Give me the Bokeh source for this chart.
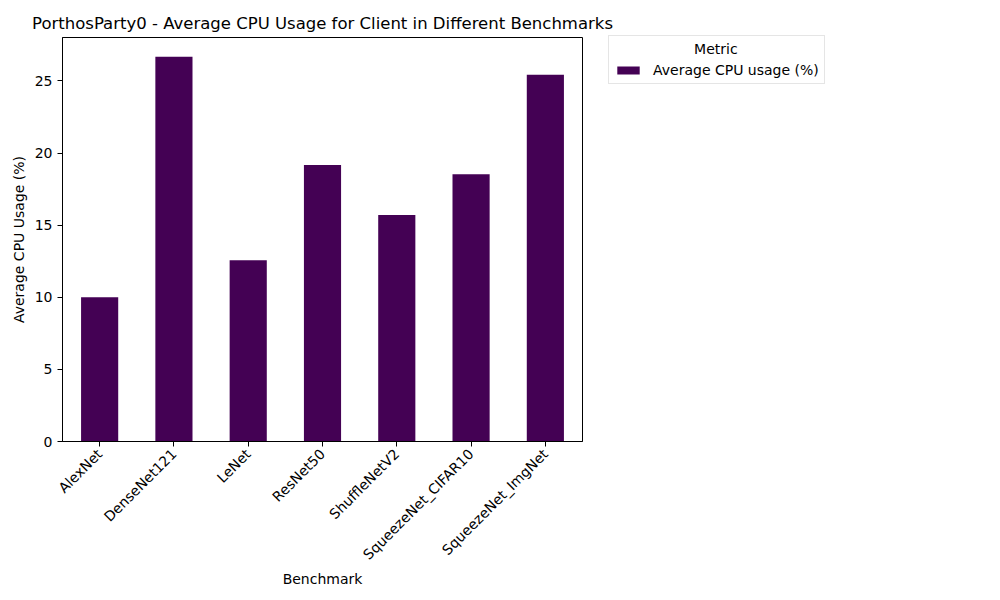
import math
from bokeh.plotting import figure
from bokeh.models import ColumnDataSource, Legend, LegendItem, Range1d, FactorRange
from bokeh.embed import file_html
from bokeh.resources import INLINE

benchmarks = ["AlexNet", "DenseNet121", "LeNet", "ResNet50", "ShuffleNetV2",
              "SqueezeNet_CIFAR10", "SqueezeNet_ImgNet"]
cpu_usage = [10.0, 26.68, 12.57, 19.17, 15.71, 18.54, 25.43]
series_name = "Average CPU usage (%)"
legend_title = "Metric"

FONT = "DejaVu Sans"

src = ColumnDataSource(dict(x=benchmarks, y=cpu_usage))

p = figure(x_range=FactorRange(*benchmarks, range_padding=0),
           y_range=Range1d(0, max(cpu_usage) * 1.05),
           frame_width=520, frame_height=404,
           output_backend="svg", toolbar_location=None,
           title="PorthosParty0 - Average CPU Usage for Client in Different Benchmarks")
p.min_border_left = 62
p.min_border_top = 37
p.min_border_bottom = 151
p.min_border_right = 10

r = p.vbar(x="x", top="y", width=0.5, source=src, fill_color="#440154", line_color=None)

p.title.text_font = FONT
p.title.text_font_size = "16.5px"
p.title.text_font_style = "normal"
p.title.align = "center"
p.title.text_color = "black"

p.xgrid.visible = False
p.ygrid.visible = False
p.outline_line_color = "black"
p.outline_line_width = 1

for ax in (p.xaxis[0], p.yaxis[0]):
    ax.major_label_text_font = FONT
    ax.major_label_text_font_size = "14px"
    ax.major_label_text_color = "black"
    ax.axis_label_text_font = FONT
    ax.axis_label_text_font_size = "14px"
    ax.axis_label_text_font_style = "normal"
    ax.axis_label_text_color = "black"
    ax.major_tick_out = 5
    ax.major_tick_in = 0
    ax.minor_tick_out = 0
    ax.minor_tick_in = 0
    ax.axis_line_color = "black"
    ax.major_tick_line_color = "black"

p.xaxis.axis_label = "Benchmark"
p.xaxis.axis_label_standoff = 0
p.yaxis.axis_label = "Average CPU Usage (%)"
p.yaxis.ticker = [0, 5, 10, 15, 20, 25]
p.xaxis.major_label_orientation = math.pi / 4

legend = Legend(items=[LegendItem(label=series_name, renderers=[r])],
                location=(26, 357), title="\u00a0" * 18 + legend_title)
legend.title_text_font = FONT
legend.title_text_font_size = "14px"
legend.title_text_font_style = "normal"
legend.title_text_color = "black"
legend.label_text_font = FONT
legend.label_text_font_size = "14px"
legend.label_text_color = "black"
legend.glyph_width = 28
legend.glyph_height = 10
legend.label_standoff = 11
legend.border_line_color = "#cccccc"
legend.border_line_width = 1
legend.padding = 5
legend.spacing = 4
legend.margin = 0
p.add_layout(legend, "right")

open("out.html", "w").write(file_html(p, INLINE))
